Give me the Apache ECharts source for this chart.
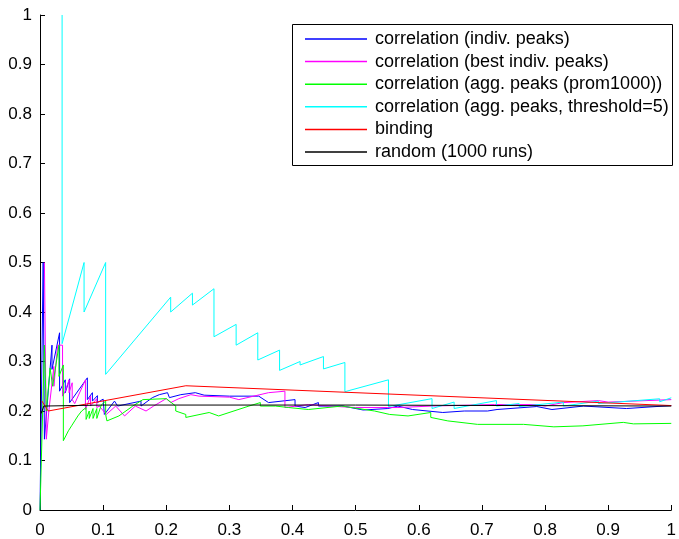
<!DOCTYPE html>
<html>
<head>
<meta charset="utf-8">
<script src="https://cdn.jsdelivr.net/npm/echarts@6/dist/echarts.min.js"></script>
<style>
html,body{margin:0;padding:0;background:#fff;}
#chart{width:679px;height:539px;}
</style>
</head>
<body>
<div id="chart"></div>
<script>
var seriesNames = [
  'correlation (indiv. peaks)',
  'correlation (best indiv. peaks)',
  'correlation (agg. peaks (prom1000))',
  'correlation (agg. peaks, threshold=5)',
  'binding',
  'random (1000 runs)'
];
var xTicks = [0,0.1,0.2,0.3,0.4,0.5,0.6,0.7,0.8,0.9,1];
var yTicks = [0,0.1,0.2,0.3,0.4,0.5,0.6,0.7,0.8,0.9,1];

var indivPeaks = [[0,0],[0.005,0.5],[0.007,0.5],[0.007,0.143],[0.019,0.333],[0.019,0.284],[0.031,0.358],[0.031,0.24],[0.04,0.263],[0.04,0.237],[0.047,0.265],[0.047,0.217],[0.075,0.267],[0.075,0.223],[0.083,0.237],[0.083,0.22],[0.091,0.231],[0.091,0.217],[0.1,0.224],[0.102,0.193],[0.118,0.22],[0.123,0.21],[0.16,0.22],[0.16,0.21],[0.178,0.227],[0.189,0.233],[0.202,0.237],[0.205,0.227],[0.223,0.233],[0.246,0.237],[0.26,0.232],[0.3,0.23],[0.3465,0.23],[0.362,0.217],[0.404,0.223],[0.404,0.21],[0.42,0.207],[0.441,0.217],[0.441,0.21],[0.48,0.21],[0.512,0.202],[0.551,0.205],[0.567,0.21],[0.59,0.203],[0.638,0.197],[0.672,0.2],[0.709,0.2],[0.724,0.203],[0.787,0.209],[0.811,0.203],[0.861,0.21],[0.929,0.205],[1,0.211]];

var bestIndivPeaks = [[0.007,0.5],[0.01,0.5],[0.01,0.143],[0.014,0.2],[0.022,0.29],[0.022,0.25],[0.028,0.333],[0.0357,0.333],[0.0357,0.23],[0.04,0.24],[0.046,0.263],[0.046,0.237],[0.051,0.257],[0.051,0.223],[0.055,0.215],[0.072,0.263],[0.072,0.203],[0.08,0.23],[0.08,0.21],[0.09,0.225],[0.09,0.207],[0.094,0.21],[0.105,0.193],[0.12,0.21],[0.134,0.19],[0.151,0.21],[0.168,0.2],[0.18,0.21],[0.2,0.225],[0.207,0.217],[0.22,0.225],[0.239,0.233],[0.252,0.23],[0.3,0.228],[0.315,0.223],[0.362,0.237],[0.388,0.24],[0.388,0.207],[0.425,0.213],[0.425,0.217],[0.457,0.21],[0.5,0.207],[0.551,0.207],[0.567,0.207],[0.62,0.21],[0.72,0.213],[0.787,0.213],[0.8,0.21],[0.829,0.217],[0.8845,0.221],[0.9,0.218],[1,0.223]];

var aggPeaksProm = [[0,0],[0.007,0.333],[0.01,0.2],[0.016,0.287],[0.02,0.25],[0.03,0.333],[0.03,0.27],[0.037,0.293],[0.037,0.14],[0.045,0.16],[0.05,0.17],[0.055,0.18],[0.06,0.19],[0.066,0.2],[0.073,0.207],[0.073,0.183],[0.078,0.2],[0.078,0.185],[0.084,0.205],[0.084,0.185],[0.09,0.205],[0.09,0.185],[0.097,0.212],[0.104,0.22],[0.104,0.193],[0.106,0.18],[0.125,0.19],[0.147,0.21],[0.163,0.223],[0.2,0.225],[0.215,0.21],[0.215,0.2],[0.231,0.193],[0.231,0.187],[0.268,0.197],[0.283,0.19],[0.331,0.21],[0.349,0.217],[0.349,0.21],[0.373,0.21],[0.394,0.207],[0.425,0.203],[0.478,0.21],[0.53,0.2],[0.554,0.193],[0.583,0.19],[0.619,0.197],[0.619,0.187],[0.646,0.18],[0.693,0.173],[0.766,0.173],[0.814,0.168],[0.86,0.17],[0.924,0.177],[0.94,0.174],[1,0.175]];

var aggPeaksThresh = [[0.035,1],[0.035,0.336],[0.0698,0.5],[0.0698,0.4],[0.104,0.5],[0.104,0.274],[0.207,0.43],[0.207,0.40],[0.2415,0.438],[0.2415,0.414],[0.2756,0.447],[0.2756,0.35],[0.3107,0.375],[0.3107,0.333],[0.345,0.358],[0.345,0.303],[0.3795,0.323],[0.3795,0.282],[0.412,0.30],[0.412,0.293],[0.449,0.31],[0.449,0.285],[0.483,0.298],[0.483,0.239],[0.552,0.263],[0.552,0.209],[0.621,0.225],[0.621,0.205],[0.656,0.218],[0.656,0.205],[0.723,0.221],[0.723,0.21],[0.759,0.215],[0.759,0.209],[0.829,0.218],[0.829,0.21],[0.8845,0.22],[0.8845,0.215],[0.9816,0.2247],[0.9816,0.2187],[1,0.2267]];

var binding = [[0.003,0.22],[0.013,0.2],[0.231,0.251],[1,0.211]];

var randomRuns = [[0.002,0.195],[0.006,0.21],[0.1,0.212],[0.5,0.212],[1,0.21]];

var dataSets = [indivPeaks, bestIndivPeaks, aggPeaksProm, aggPeaksThresh, binding, randomRuns];
var colors = ['#0000ff','#ff00ff','#00ff00','#00ffff','#ff0000','#000000'];

var FONT = '"Liberation Sans", Arial, Helvetica, sans-serif';

var chart = echarts.init(document.getElementById('chart'), null, {renderer:'canvas'});

var series = dataSets.map(function(d, i){
  return {
    name: seriesNames[i],
    type: 'line',
    data: d,
    symbol: 'none',
    showSymbol: false,
    animation: false,
    lineStyle: {color: colors[i], width: 1},
    itemStyle: {color: colors[i]},
    z: 2 + i
  };
});

function axisCommon(){
  return {
    type: 'value',
    min: 0, max: 1, interval: 0.1,
    axisLine: {show: true, lineStyle: {color: '#000', width: 1}},
    axisTick: {show: true, inside: true, length: 5, lineStyle: {color: '#000'}},
    splitLine: {show: false},
    axisLabel: {color: '#000', fontSize: 17, fontFamily: FONT,
      formatter: function(v){ return String(Math.round(v*10)/10); }}
  };
}
var xAxis = axisCommon(); xAxis.axisLabel.margin = 12;
var yAxis = axisCommon(); yAxis.axisLabel.margin = 8;

chart.setOption({
  animation: false,
  backgroundColor: '#fff',
  grid: {left: 40, right: 4, top: 15, bottom: 24, containLabel: false},
  xAxis: xAxis,
  yAxis: yAxis,
  graphic: [{
    type: 'rect', left: 292, top: 24, z: 50,
    shape: {width: 380, height: 141},
    style: {fill: '#fff', stroke: '#000', lineWidth: 1}
  }],
  legend: {
    show: true,
    orient: 'vertical',
    left: 305, top: 30,
    z: 60,
    icon: 'rect',
    itemWidth: 62, itemHeight: 1.5, itemGap: 4.6,
    padding: 0,
    textStyle: {color: '#000', fontSize: 18, fontFamily: FONT, lineHeight: 16, padding: [0,0,0,3]},
    data: seriesNames
  },
  series: series
});
</script>
</body>
</html>
